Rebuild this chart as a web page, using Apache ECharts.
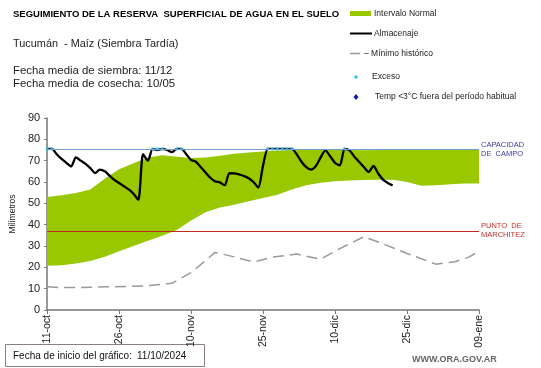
<!DOCTYPE html>
<html>
<head>
<meta charset="utf-8">
<script src="https://cdn.jsdelivr.net/npm/echarts@6/dist/echarts.min.js"></script>
<style>html,body{margin:0;padding:0;background:#fff}#c{width:541px;height:368px}</style>
</head>
<body>
<div id="c"></div>
<script>
// Tick labels of the x axis (every 15 days starting 11-oct)
const tickLabels = ['11-oct','26-oct','10-nov','25-nov','10-dic','25-dic','09-ene'];
// Almacenaje: daily values from day 0 (11-oct)
const almacenaje = [75.5,75.5,73,70.8,69,67.3,71.5,70,68.5,66.5,64.2,65.8,65,63,61,59.5,58,56.5,54.5,51.7,
  73,70,75.5,75,75.5,75,74,75.5,75.5,73,70.3,69.5,67,64.5,62,60.3,59.8,58.5,64.2,64,
  63.6,62.8,61.8,60,57.4,67.8,75.5,75.5,75.5,75.5,75.5,75.5,73,69.5,67,65.8,67.5,71.5,74.8,72,
  69,67.8,75.5,74.8,72,69.5,67,64.7,67.5,64,61.1,59.5,58.4];
// Exceso points (days, value)
const excesoDias = [0,1,22,23,24,27,28,46,47,48,49,50,51,62];
const excesoVal = [75.5,75.5,75.5,75.5,75.5,75.5,75.5,75.5,75.5,75.5,75.5,75.5,75.5,75.5];
// Mínimo histórico
const minDias = [0,3,7,13,20,25,26,30,35,39,43,47,52,57,61,66,69,75,81,85,88,90];
const minVals = [10.9,10.5,10.6,10.9,11.2,12.3,12.5,17.5,27,24.9,22.5,24.8,26.2,23.8,28.8,34.3,31.9,26.5,21.5,22.6,24.9,27.7];
// Intervalo normal (band)
const bandDias = [0,3,6,9,12,15,18,21,24,27,30,33,36,39,42,45,48,51,54,57,60,63,66,69,72,75,78,81,84,87,90];
const bandInf = [20.7,21,21.8,23,25,27.5,30,32.5,34.8,37.5,42,45.8,48,49.3,51,52.5,54,56.5,58.5,59.6,60.3,60.7,60.9,61,61,60,58.3,58.5,59,59.3,59.3];
const bandSup = [53,53.8,54.8,56.5,61.5,66,68.8,71.5,72.5,71.8,71.2,71.5,72.3,73.2,73.8,74.3,74.8,75,75,75.1,75.2,75,74.9,75,75.2,75,75.1,75,75,75.1,75];
const capacidadCampo = 75.4;
const puntoMarchitez = 37.1;

const chart = echarts.init(document.getElementById('c'), null, {renderer:'canvas'});
const FONT = '"Liberation Sans", Arial, sans-serif';

const bandData = bandDias.map((d, i) => [d, bandInf[i], bandSup[i]]);

const option = {
  animation: false,
  backgroundColor: '#fff',
  grid: {left: 33, right: 62, top: 118, bottom: 58, containLabel: false},
  xAxis: {
    type: 'value', min: 0, max: 90, interval: 15,
    axisLine: {show: true, lineStyle: {color: '#777', width: 1.5}},
    axisTick: {show: true, length: 4, lineStyle: {color: '#777'}},
    splitLine: {show: false},
    axisLabel: {rotate: 90, fontSize: 10.5, color: '#222', fontFamily: FONT, margin: 5,
      formatter: v => tickLabels[Math.round(v / 15)] || ''}
  },
  yAxis: {
    type: 'value', min: 0, max: 90, interval: 10,
    name: 'Milímetros', nameLocation: 'middle', nameGap: 24, nameRotate: 90,
    nameTextStyle: {fontSize: 8.5, color: '#222', fontFamily: FONT},
    axisLine: {show: true, lineStyle: {color: '#777', width: 1.5}},
    axisTick: {show: true, length: 3, lineStyle: {color: '#777'}},
    splitLine: {show: false},
    axisLabel: {fontSize: 11, color: '#222', fontFamily: FONT, margin: 7}
  },
  series: [
    {
      name: 'Intervalo Normal', type: 'custom', z: 1, silent: true,
      data: [0],
      renderItem: function (params, api) {
        const top = bandData.map(p => api.coord([p[0], p[2]]));
        const bot = bandData.slice().reverse().map(p => api.coord([p[0], p[1]]));
        return {
          type: 'polygon',
          shape: {points: top.concat(bot)},
          style: {fill: '#99c800', stroke: 'none'}
        };
      }
    },
    {
      name: 'Capacidad de campo', type: 'line', z: 2, data: [], symbol: 'none',
      markLine: {
        silent: true, symbol: 'none',
        lineStyle: {color: '#6f9fd6', width: 1, type: 'solid'},
        label: {show: true, position: 'end', distance: 2, formatter: 'CAPACIDAD\nDE  CAMPO', color: '#3b3ba0', fontSize: 7.5, lineHeight: 9, fontFamily: FONT, align: 'left'},
        data: [{yAxis: capacidadCampo}]
      }
    },
    {
      name: 'Punto de marchitez', type: 'line', z: 2, data: [], symbol: 'none',
      markLine: {
        silent: true, symbol: 'none',
        lineStyle: {color: '#c0281e', width: 1, type: 'solid'},
        label: {show: true, position: 'end', distance: 2, formatter: 'PUNTO  DE\nMARCHITEZ', color: '#c0302a', fontSize: 7.5, lineHeight: 9, fontFamily: FONT, align: 'left'},
        data: [{yAxis: puntoMarchitez}]
      }
    },
    {
      name: 'Mínimo histórico', type: 'line', z: 2, symbol: 'none',
      lineStyle: {color: '#9a9a9a', width: 1.5, type: [11, 6]},
      data: minDias.map((d, i) => [d, minVals[i]])
    },
    {
      name: 'Almacenaje', type: 'line', z: 3, symbol: 'none', smooth: 0.25,
      lineStyle: {color: '#000', width: 2.3},
      data: almacenaje.map((v, i) => [i, v])
    },
    {
      name: 'Exceso', type: 'scatter', z: 4, symbol: 'circle', symbolSize: 3.5,
      itemStyle: {color: '#33c4ec'},
      data: excesoDias.map((d, i) => [d, excesoVal[i]])
    }
  ],
  graphic: [
    {type: 'text', x: 13, y: 14.5, style: {text: 'SEGUIMIENTO DE LA RESERVA  SUPERFICIAL DE AGUA EN EL SUELO', font: 'bold 9.5px ' + FONT, fill: '#000', verticalAlign: 'middle'}},
    {type: 'text', x: 13, y: 44, style: {text: 'Tucumán  - Maíz (Siembra Tardía)', font: '10.9px ' + FONT, fill: '#222', verticalAlign: 'middle'}},
    {type: 'text', x: 13, y: 71, style: {text: 'Fecha media de siembra: 11/12', font: '11.4px ' + FONT, fill: '#222', verticalAlign: 'middle'}},
    {type: 'text', x: 13, y: 84, style: {text: 'Fecha media de cosecha: 10/05', font: '11.4px ' + FONT, fill: '#222', verticalAlign: 'middle'}},
    // legend
    {type: 'rect', shape: {x: 350, y: 11, width: 21, height: 5}, style: {fill: '#99c800'}},
    {type: 'text', x: 374, y: 13.5, style: {text: 'Intervalo Normal', font: '8.5px ' + FONT, fill: '#222', verticalAlign: 'middle'}},
    {type: 'line', shape: {x1: 350, y1: 33.5, x2: 372, y2: 33.5}, style: {stroke: '#000', lineWidth: 2}},
    {type: 'text', x: 374, y: 33.5, style: {text: 'Almacenaje', font: '8.5px ' + FONT, fill: '#222', verticalAlign: 'middle'}},
    {type: 'line', shape: {x1: 350, y1: 53.5, x2: 360, y2: 53.5}, style: {stroke: '#999', lineWidth: 1.5}},
    {type: 'text', x: 364, y: 53.5, style: {text: '– Mínimo histórico', font: '8.5px ' + FONT, fill: '#222', verticalAlign: 'middle'}},
    {type: 'circle', shape: {cx: 356, cy: 77, r: 1.8}, style: {fill: '#33c4ec'}},
    {type: 'text', x: 372, y: 77, style: {text: 'Exceso', font: '8.5px ' + FONT, fill: '#222', verticalAlign: 'middle'}},
    {type: 'polygon', shape: {points: [[356, 94], [358.5, 97], [356, 100], [353.5, 97]]}, style: {fill: '#1a1aa0'}},
    {type: 'text', x: 375, y: 97, style: {text: 'Temp <3°C fuera del período habitual', font: '8.5px ' + FONT, fill: '#222', verticalAlign: 'middle'}},
    // bottom box
    {type: 'rect', shape: {x: 5.5, y: 344.5, width: 199, height: 22}, style: {fill: '#fff', stroke: '#8c7f7f', lineWidth: 1}},
    {type: 'text', x: 13, y: 356, style: {text: 'Fecha de inicio del gráfico:', font: '10px ' + FONT, fill: '#111', verticalAlign: 'middle'}},
    {type: 'text', x: 137, y: 356, style: {text: '11/10/2024', font: '10px ' + FONT, fill: '#111', verticalAlign: 'middle'}},
    {type: 'text', x: 412, y: 360, style: {text: 'WWW.ORA.GOV.AR', font: 'bold 9px ' + FONT, fill: '#666', verticalAlign: 'middle'}}
  ]
};
chart.setOption(option);
</script>
</body>
</html>
